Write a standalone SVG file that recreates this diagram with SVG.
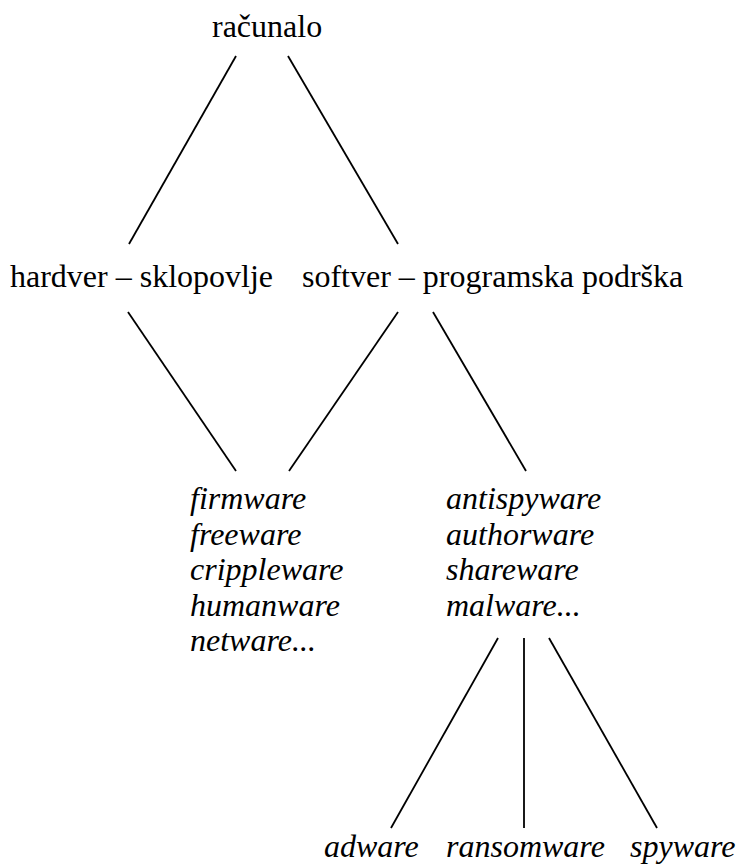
<svg xmlns="http://www.w3.org/2000/svg" width="736" height="865" viewBox="0 0 736 865">
<style>
.t{font-family:'Liberation Serif','Times New Roman',Times,serif;font-size:32px;fill:#000}
.it{font-style:italic}
.c{stroke:#000;stroke-width:1.8;fill:none}
</style>
<rect width="736" height="865" fill="#fff"/>
<g id="connectors" class="c">
<line x1="236" y1="56" x2="129" y2="244"/>
<line x1="288" y1="56" x2="398" y2="244"/>
<line x1="128" y1="312" x2="236" y2="471"/>
<line x1="398" y1="312" x2="289" y2="471"/>
<line x1="433" y1="312" x2="526" y2="471"/>
<line x1="498" y1="638" x2="391" y2="828"/>
<line x1="524" y1="638" x2="524" y2="828"/>
<line x1="549" y1="638" x2="657" y2="828"/>
</g>
<g id="racunalo" class="t" font-family="Liberation Serif, serif"><text x="212" y="37">računalo</text></g>
<g id="hardver" class="t" font-family="Liberation Serif, serif"><text x="10" y="287">hardver – sklopovlje</text></g>
<g id="softver" class="t" font-family="Liberation Serif, serif"><text x="302" y="287">softver – programska podrška</text></g>
<g id="list-left" class="t it" font-family="Liberation Serif, serif">
<text x="190" y="509">firmware</text>
<text x="190" y="544.5">freeware</text>
<text x="190" y="580">crippleware</text>
<text x="190" y="615.5">humanware</text>
<text x="190" y="651">netware...</text>
</g>
<g id="list-right" class="t it" font-family="Liberation Serif, serif">
<text x="446" y="509">antispyware</text>
<text x="446" y="544.5">authorware</text>
<text x="446" y="580">shareware</text>
<text x="446" y="615.5">malware...</text>
</g>
<g id="adware" class="t it" font-family="Liberation Serif, serif"><text x="324" y="857">adware</text></g>
<g id="ransomware" class="t it" font-family="Liberation Serif, serif"><text x="446" y="857">ransomware</text></g>
<g id="spyware" class="t it" font-family="Liberation Serif, serif"><text x="630" y="857">spyware</text></g>
</svg>
